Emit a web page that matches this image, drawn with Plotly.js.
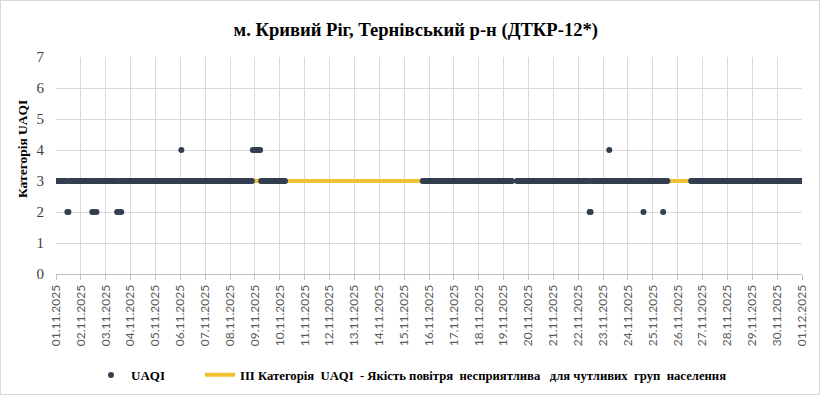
<!DOCTYPE html>
<html>
<head>
<meta charset="utf-8">
<script src="https://cdn.plot.ly/plotly-3.0.1.min.js"></script>
<style>
  html, body { margin: 0; padding: 0; background: #fff; }
  #wrap { position: relative; width: 820px; height: 395px; }
  #chart { width: 820px; height: 395px; }
  #frame { position: absolute; left: 0; top: 0; width: 820px; height: 395px; box-sizing: border-box;
           border: 1px solid #D9D9D9; pointer-events: none; }
</style>
</head>
<body>
<div id="wrap"><div id="chart"></div><div id="frame"></div></div>
<script>
// Hourly UAQI category, read from the picture as runs: value (null = no data) and length in hours
const startDate = '2025-11-01T00:00:00';
const endDate = '2025-12-01T00:00:00';
const runValues  = [3, 2, 3, 2, 3, 2, 3, 2, 3, 2, 3, 2, 3, 2, 3, 4, 3, 4, 3, null, 3, null, 3, 2, 3, 4, 3, 2, 3, 2, 3, null, 3];
const runLengths = [11, 2, 22, 1, 1, 1, 1, 1, 19, 1, 1, 1, 1, 1, 57, 1, 68, 8, 24, 132, 87, 4, 70, 2, 17, 1, 32, 1, 18, 1, 4, 22, 107];

// Threshold line: category III
const thresholdValue = [3, 3];

// Tick labels for the day axis
const dayLabels = ['01.11.2025','02.11.2025','03.11.2025','04.11.2025','05.11.2025','06.11.2025','07.11.2025',
  '08.11.2025','09.11.2025','10.11.2025','11.11.2025','12.11.2025','13.11.2025','14.11.2025','15.11.2025',
  '16.11.2025','17.11.2025','18.11.2025','19.11.2025','20.11.2025','21.11.2025','22.11.2025','23.11.2025',
  '24.11.2025','25.11.2025','26.11.2025','27.11.2025','28.11.2025','29.11.2025','30.11.2025','01.12.2025'];

const yTicks = [0, 1, 2, 3, 4, 5, 6, 7];

const seriesName = 'UAQI';
const thresholdName = 'III Категорія\u00a0 UAQI\u00a0 - Якість повітря\u00a0 несприятлива\u00a0\u00a0 для чутливих\u00a0 груп\u00a0 населення';

// Expand runs to hourly points
function pad(n) { return (n < 10 ? '0' : '') + n; }
function fmt(d) {
  return d.getUTCFullYear() + '-' + pad(d.getUTCMonth() + 1) + '-' + pad(d.getUTCDate()) + ' ' +
         pad(d.getUTCHours()) + ':00';
}
const t0 = Date.UTC(2025, 10, 1, 0, 0, 0);
const xs = [], ys = [];
let h = 0;
for (let i = 0; i < runValues.length; i++) {
  for (let k = 0; k < runLengths[i]; k++) {
    xs.push(fmt(new Date(t0 + h * 3600000)));
    ys.push(runValues[i]);
    h++;
  }
}
const tickVals = dayLabels.map((_, i) => fmt(new Date(t0 + i * 86400000)));

const traces = [
  {
    x: [startDate, endDate], y: thresholdValue, type: 'scatter', mode: 'lines',
    name: thresholdName, legend: 'legend2',
    line: { color: '#F0C232', width: 4 }
  },
  {
    x: xs, y: ys, type: 'scatter', mode: 'markers', name: seriesName, legend: 'legend',
    marker: { color: '#333F50', size: 6 }
  }
];

const legendCommon = {
  orientation: 'h', xref: 'container', yref: 'container',
  xanchor: 'left', y: 1 - 375 / 395, yanchor: 'middle',
  bgcolor: 'rgba(0,0,0,0)', itemwidth: 30
};

const layout = {
  width: 820, height: 395,
  margin: { l: 56, r: 18, t: 57, b: 121 },
  paper_bgcolor: '#ffffff', plot_bgcolor: '#ffffff',
  title: {
    text: '<b>м. Кривий Ріг, Тернівський р-н (ДТКР-12*)</b>',
    font: { family: 'Liberation Serif', size: 18.6, color: '#000000' },
    x: 0.507, xref: 'container', xanchor: 'center',
    y: 1 - 29 / 395, yref: 'container', yanchor: 'middle'
  },
  xaxis: {
    type: 'date', range: [startDate, endDate],
    tickmode: 'array', tickvals: tickVals, ticktext: dayLabels,
    tickangle: -90, tickfont: { family: 'Lato', size: 12, color: '#595959' },
    showgrid: true, gridcolor: '#D9D9D9', gridwidth: 1,
    showline: true, linecolor: '#BFBFBF', linewidth: 1,
    ticks: 'outside', ticklen: 5, tickcolor: '#BFBFBF',
    zeroline: false, fixedrange: true
  },
  yaxis: {
    range: [0, 7], tickmode: 'array', tickvals: yTicks,
    tickfont: { family: 'Liberation Serif', size: 15, color: '#404040' },
    showgrid: true, gridcolor: '#D9D9D9', gridwidth: 1,
    showline: false, zeroline: false,
    ticks: 'outside', ticklen: 8, tickcolor: 'rgba(0,0,0,0)',
    fixedrange: true
  },
  annotations: [{
    text: '<b>Категорія UAQI</b>', textangle: -90,
    font: { family: 'Liberation Serif', size: 13.5, color: '#000000' },
    xref: 'paper', yref: 'paper', x: (22 - 56) / 746, y: (274 - 149) / 217,
    xanchor: 'center', yanchor: 'middle', showarrow: false
  }],
  showlegend: true,
  legend: Object.assign({}, legendCommon, {
    x: 91 / 820,
    font: { family: 'Liberation Serif', size: 13, color: '#000000', weight: 'bold' }
  }),
  legend2: Object.assign({}, legendCommon, {
    x: 200 / 820,
    font: { family: 'Liberation Serif', size: 12.7, color: '#000000', weight: 'bold' }
  })
};

Plotly.newPlot('chart', traces, layout, { staticPlot: true, displayModeBar: false });
</script>
</body>
</html>
